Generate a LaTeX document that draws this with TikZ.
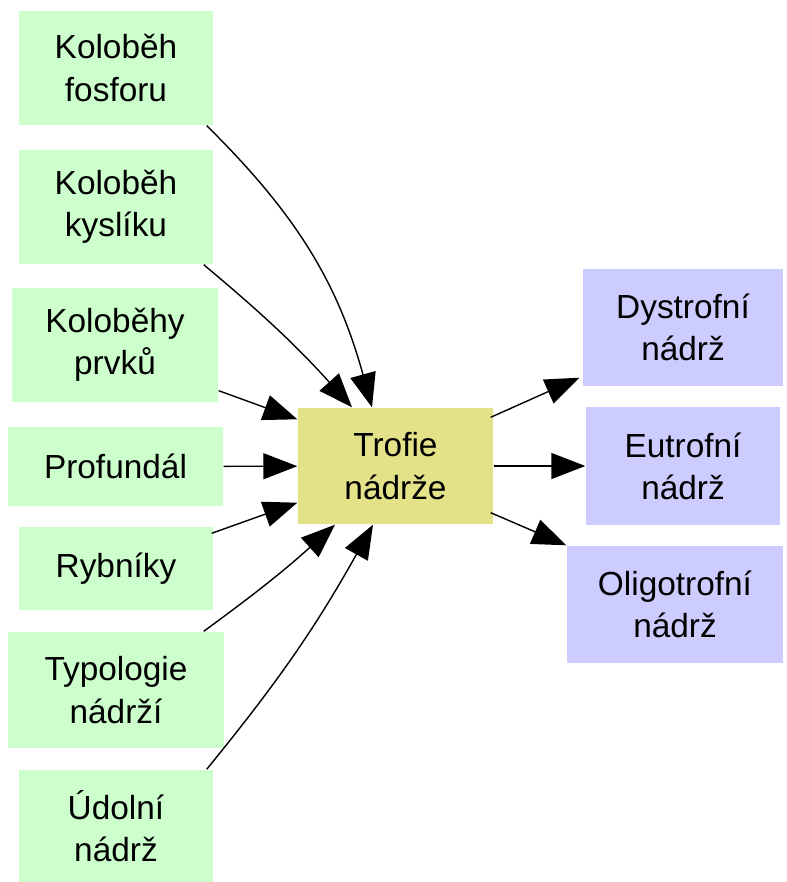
\documentclass[tikz,border=0pt]{standalone}
\usepackage{fontspec}
\setmainfont{Liberation Sans}
\usetikzlibrary{shapes, arrows.meta, positioning}
\usepackage{xcolor}
\definecolor{srcgreen}{RGB}{204,255,204}
\definecolor{typeblue}{RGB}{204,204,255}
\definecolor{hubyellow}{RGB}{228,226,136}

\begin{document}
\begin{tikzpicture}[x=0.2mm, y=-0.2mm, thick]
        % Define block styles
        \tikzstyle{block} = [rectangle, draw=none, fill=srcgreen, inner sep=0pt, align=center, font=\fontsize{19}{24}\selectfont]
        \tikzstyle{result} = [block, fill=typeblue]
        \tikzstyle{hub} = [block, fill=hubyellow]
        \tikzstyle{line} = [draw, line width=0.8pt, -{Triangle[length=6.8mm, width=5.2mm]}]

        \useasboundingbox (0,0) rectangle (786,882);

        % Define nodes
        \node [block, minimum width=3.88cm, minimum height=2.28cm] (fosfor) at (116,68) {Koloběh\\fosforu};
        \node [block, minimum width=3.88cm, minimum height=2.28cm] (kyslik) at (116,207) {Koloběh\\kyslíku};
        \node [block, minimum width=4.12cm, minimum height=2.28cm] (prvky) at (115,345) {Koloběhy\\prvků};
        \node [block, minimum width=4.30cm, minimum height=1.58cm] (profundal) at (115.5,466.5) {Profundál};
        \node [block, minimum width=3.88cm, minimum height=1.66cm] (rybniky) at (116,568.5) {Rybníky};
        \node [block, minimum width=4.32cm, minimum height=2.32cm] (typologie) at (116,690) {Typologie\\nádrží};
        \node [block, minimum width=3.88cm, minimum height=2.24cm] (udolni) at (116,826) {Údolní\\nádrž};

        \node [hub, minimum width=3.90cm, minimum height=2.32cm] (trofie) at (395.5,466) {Trofie\\nádrže};

        \node [result, minimum width=4.00cm, minimum height=2.34cm] (dystrof) at (683,327.5) {Dystrofní\\nádrž};
        \node [result, minimum width=3.88cm, minimum height=2.36cm] (eutrof) at (683,466) {Eutrofní\\nádrž};
        \node [result, minimum width=4.32cm, minimum height=2.34cm] (oligo) at (675,604.5) {Oligotrofní\\nádrž};

        % Connect nodes with paths
        \path [line] ([xshift=-1.4mm]fosfor.south east) to[bend left=15] ([xshift=-4.7mm]trofie.north);
        \path [line] ([xshift=-2mm]kyslik.south east) to[bend left=4] ([xshift=-8.7mm]trofie.north);
        \path [line] ([yshift=2.4mm]prvky.south east) -- ([yshift=-2.4mm]trofie.north west);
        \path [line] (profundal) -- (trofie);
        \path [line] ([xshift=-0.4mm, yshift=-1.4mm]rybniky.north east) -- ([yshift=4.4mm]trofie.south west);
        \path [line] ([xshift=-4.2mm]typologie.north east) to[bend right=3] ([xshift=-12.1mm]trofie.south);
        \path [line] ([xshift=-1.4mm]udolni.north east) to[bend right=5] ([xshift=-4.5mm]trofie.south);

        \path [line] ([xshift=-0.6mm, yshift=-2mm]trofie.north east) -- ([xshift=-0.6mm, yshift=1.8mm]dystrof.south west);
        \path [line] (trofie) -- (eutrof);
        \path [line] ([xshift=-0.6mm, yshift=2.4mm]trofie.south east) -- (oligo.north west);

    \end{tikzpicture}
\end{document}
